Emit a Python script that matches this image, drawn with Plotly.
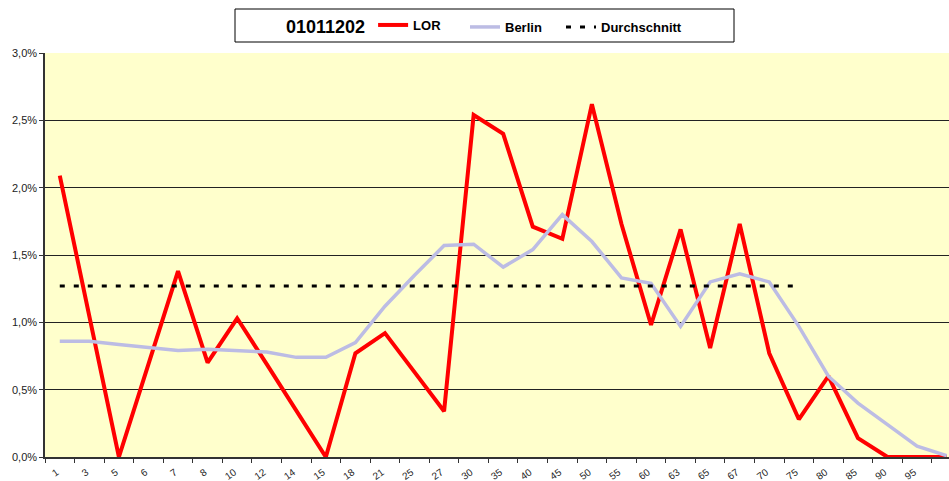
import plotly.graph_objects as go

# ---- data (values in %) ----
categories = ["1", "3", "5", "6", "7", "8", "10", "12", "14", "15", "18", "21", "25", "27",
              "30", "35", "40", "45", "50", "55", "60", "63", "65", "67", "70", "75", "80",
              "85", "90", "95", "100"]
lor = [2.09, 1.04, 0.00, 0.69, 1.38, 0.70, 1.03, 0.69, 0.35, 0.00, 0.77, 0.92, 0.63, 0.34,
       2.54, 2.40, 1.71, 1.62, 2.62, 1.73, 0.98, 1.69, 0.81, 1.73, 0.77, 0.28, 0.60,
       0.14, 0.00, 0.00, 0.00]
berlin = [0.86, 0.86, 0.835, 0.81, 0.79, 0.80, 0.79, 0.78, 0.74, 0.74, 0.85, 1.12, 1.35, 1.57,
          1.58, 1.41, 1.54, 1.80, 1.60, 1.33, 1.29, 0.97, 1.30, 1.36, 1.30, 0.97, 0.60,
          0.40, 0.24, 0.08, 0.01]
avg_value = 1.27
avg_span = 26  # average drawn for the first 26 categories (1 .. 75)
durchschnitt = [avg_value if i < avg_span else None for i in range(len(categories))]
y_ticks = [0.0, 0.5, 1.0, 1.5, 2.0, 2.5, 3.0]
y_ticktext = [f"{v:.1f}".replace(".", ",") + "%" for v in y_ticks]
legend_title = "01011202"

W, H = 949, 481
L, R, T, B = 45, 0, 53, 24

fig = go.Figure()
fig.add_trace(go.Scatter(x=categories, y=lor, name="LOR", mode="lines", legend="legend",
                         line=dict(color="#FF0000", width=4)))
fig.add_trace(go.Scatter(x=categories, y=berlin, name="Berlin", mode="lines", legend="legend2",
                         line=dict(color="#BCBCE4", width=3.5)))
fig.add_trace(go.Scatter(x=categories, y=durchschnitt, name="Durchschnitt", mode="lines",
                         legend="legend3",
                         line=dict(color="#000000", width=3, dash="5px,9px")))

pw, ph = W - L - R, H - T - B
def px_x(p):
    return (p - L) / pw
def px_y(p):
    return (H - B - p) / ph

fig.add_shape(type="rect", xref="paper", yref="paper",
              x0=px_x(235), x1=px_x(734), y0=px_y(42), y1=px_y(9),
              line=dict(color="#000000", width=1), fillcolor="rgba(0,0,0,0)", layer="above")

leg_common = dict(orientation="h", xref="container", yref="container",
                  xanchor="left", yanchor="top", bgcolor="rgba(0,0,0,0)", borderwidth=0,
                  font=dict(size=13, color="#000000", weight="bold"))

fig.update_layout(
    width=W, height=H,
    margin=dict(l=L, r=R, t=T, b=B),
    paper_bgcolor="#FFFFFF",
    plot_bgcolor="#FFFFCC",
    font=dict(family="Liberation Sans, Arial, sans-serif", color="#222222", size=11),
    showlegend=True,
    legend=dict(**leg_common, x=284 / W, y=1 - 10 / H,
                title=dict(text="<b>" + legend_title + "</b>", side="left",
                           font=dict(size=18, color="#000000"))),
    legend2=dict(**leg_common, x=465 / W, y=1 - 12 / H),
    legend3=dict(**leg_common, x=561 / W, y=1 - 12 / H),
    xaxis=dict(type="category", range=[-0.5, 30.08], tickson="boundaries",
               tickmode="array", tickvals=categories[:30], ticktext=categories[:30],
               ticks="outside", ticklen=4, tickcolor="#333333",
               showline=True, linecolor="#333333", linewidth=1.5,
               showgrid=False, zeroline=False, tickangle=-35,
               ticklabelshift=-3, ticklabelstandoff=4,
               tickfont=dict(size=10, color="#222222"), automargin=False),
    yaxis=dict(range=[0, 3.0], tickmode="array", tickvals=y_ticks, ticktext=y_ticktext,
               ticks="outside", ticklen=4, tickcolor="#333333",
               showline=True, linecolor="#333333", linewidth=1.5,
               showgrid=True, gridcolor="#222222", gridwidth=1, zeroline=False,
               tickfont=dict(size=11, color="#222222"), automargin=False),
)

fig.write_html("out.html", config={"displayModeBar": False},
               post_script="document.body.style.margin='0';document.body.style.padding='0';")
